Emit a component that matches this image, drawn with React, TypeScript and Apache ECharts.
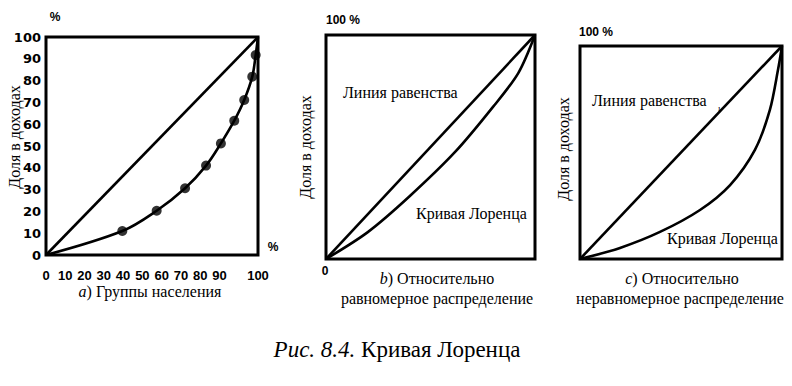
import React, { useEffect, useRef } from 'react';
import * as echarts from 'echarts';

// Chart a: x-axis tick labels (spaced as printed)
const xTickLabelsA = ['0', '10', '20', '30', '40', '50', '60', '70', '80', '90', '', '100'];
// Equality line (all three panels)
const equalityX = [0, 100];
const equalityY = [0, 100];
// Chart a: Lorenz curve marker points (population share %, income share %)
const populationA = [36, 52.2, 65.6, 75.5, 82.5, 88.8, 93.5, 97.3, 98.9];
const incomeA = [11, 20.3, 30.6, 41, 51.2, 61.6, 71.1, 81.8, 91.7];
// Chart b: relatively equal distribution
const populationB = [0, 20, 40, 62, 80, 92, 100];
const incomeB = [0, 12, 28, 48, 68, 83, 100];
// Chart c: relatively unequal distribution
const populationC = [0, 19.8, 39.6, 59.4, 74.3, 86.6, 94, 98, 100];
const incomeC = [0, 5.2, 12.7, 23, 34.7, 51.2, 70, 88.7, 100];

const zip = (xs: number[], ys: number[]) => xs.map((x, i) => [x, ys[i]]);

const SERIF = 'Liberation Serif';
const SANS = 'Liberation Sans';

export default function App() {
  const ref = useRef<HTMLDivElement>(null);
  useEffect(() => {
    document.body.style.margin = '0';
    const chart = echarts.init(ref.current!, null, { renderer: 'svg' });
    const gridStyle = { show: true, borderWidth: 3, borderColor: '#000', backgroundColor: 'transparent', containLabel: false };
    const hiddenValue = (gridIndex: number) => ({ gridIndex, type: 'value', min: 0, max: 100, show: false });
    const lineBase = { type: 'line', showSymbol: false, symbol: 'none', lineStyle: { color: '#000', width: 2.6 }, z: 3 };
    const serif16 = { fontFamily: SERIF, fontSize: 16 };
    const sansBold = { fontFamily: SANS, fontSize: 12, fontWeight: 'bold' };
    const text = (x: number, y: number, t: string, font: any, align = 'left', rotation = 0) => ({
      type: 'text', x, y, rotation,
      style: { text: t, fill: '#000', ...font, align, verticalAlign: 'middle' },
    });
    const richText = (x: number, y: number, t: string, size: number) => ({
      type: 'text', x, y,
      style: {
        text: t, fill: '#000', fontFamily: SERIF, fontSize: size, align: 'center', verticalAlign: 'middle',
        rich: {
          i: { fontFamily: SERIF, fontSize: size, fontStyle: 'italic', fill: '#000' },
          n: { fontFamily: SERIF, fontSize: size, fill: '#000' },
        },
      },
    });

    const lorenzA = [[0, 0], ...zip(populationA, incomeA), [100, 100]];

    chart.setOption({
      animation: false,
      backgroundColor: '#fff',
      textStyle: { fontFamily: SERIF },
      grid: [
        { ...gridStyle, left: 46, top: 37, width: 212, height: 218 },
        { ...gridStyle, left: 326, top: 35, width: 209, height: 224 },
        { ...gridStyle, left: 580, top: 46, width: 202, height: 213 },
      ],
      xAxis: [
        hiddenValue(0),
        {
          gridIndex: 0, type: 'category', data: xTickLabelsA, boundaryGap: false, position: 'bottom',
          axisLine: { show: false }, axisTick: { show: false }, splitLine: { show: false },
          axisLabel: { interval: 0, margin: 14, color: '#000', fontFamily: SANS, fontSize: 13, fontWeight: 'bold' },
        },
        hiddenValue(1),
        hiddenValue(2),
      ],
      yAxis: [
        {
          gridIndex: 0, type: 'value', min: 0, max: 100, interval: 10,
          axisLine: { show: false }, axisTick: { show: false }, splitLine: { show: false },
          axisLabel: { margin: 5, color: '#000', fontFamily: 'DejaVu Sans', fontSize: 13, fontWeight: 'bold' },
        },
        hiddenValue(1),
        hiddenValue(2),
      ],
      series: [
        { ...lineBase, xAxisIndex: 0, yAxisIndex: 0, data: zip(equalityX, equalityY) },
        { ...lineBase, xAxisIndex: 0, yAxisIndex: 0, smooth: 0.35, data: lorenzA },
        {
          type: 'scatter', xAxisIndex: 0, yAxisIndex: 0, symbol: 'circle', symbolSize: 10,
          itemStyle: { color: '#000' }, data: zip(populationA, incomeA), z: 4,
        },
        { ...lineBase, xAxisIndex: 2, yAxisIndex: 1, data: zip(equalityX, equalityY) },
        { ...lineBase, xAxisIndex: 2, yAxisIndex: 1, smooth: 0.3, data: zip(populationB, incomeB) },
        { ...lineBase, xAxisIndex: 3, yAxisIndex: 2, data: zip(equalityX, equalityY) },
        { ...lineBase, xAxisIndex: 3, yAxisIndex: 2, smooth: 0.3, data: zip(populationC, incomeC) },
      ],
      graphic: [
        // chart a
        text(55, 17, '%', sansBold, 'center'),
        text(273, 247, '%', sansBold, 'center'),
        text(14, 137, 'Доля в доходах', serif16, 'center', Math.PI / 2),
        richText(150, 291, '{i|a}{n|) Группы населения}', 16),
        // chart b
        text(326, 20, '100 %', sansBold),
        text(325, 271, '0', sansBold, 'center'),
        text(305, 147, 'Доля в доходах', serif16, 'center', Math.PI / 2),
        text(343, 92, 'Линия равенства', serif16),
        text(416, 213, 'Кривая Лоренца', serif16),
        richText(437, 278, '{i|b}{n|) Относительно}', 16),
        text(437, 298, 'равномерное распределение', serif16, 'center'),
        // chart c
        text(579, 32, '100 %', sansBold),
        text(563, 149, 'Доля в доходах', serif16, 'center', Math.PI / 2),
        text(592, 100, 'Линия равенства', serif16),
        text(718, 108, 'ı', { fontFamily: SERIF, fontSize: 9 }),
        text(667, 238, 'Кривая Лоренца', serif16),
        richText(682, 278, '{i|c}{n|) Относительно}', 16),
        text(680, 298, 'неравномерное распределение', serif16, 'center'),
        // figure caption
        richText(397, 349, '{i|Рис. 8.4.}{n| Кривая Лоренца}', 23),
      ],
    });
    return () => chart.dispose();
  }, []);
  return <div ref={ref} style={{ width: 792, height: 386 }} />;
}
